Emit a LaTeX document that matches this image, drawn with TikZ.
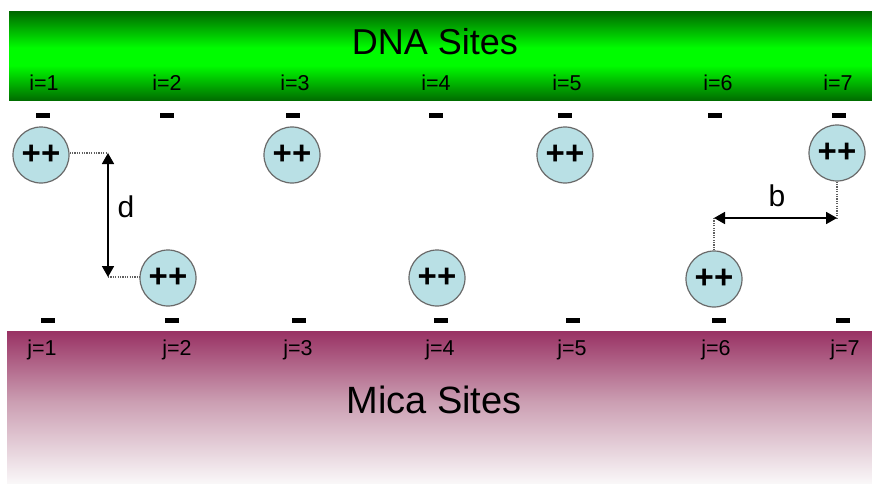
\documentclass[tikz,border=0pt]{standalone}
\usepackage{fontspec}
\setmainfont{Liberation Sans}
\usetikzlibrary{arrows.meta}
\definecolor{dnadark}{RGB}{0,106,0}
\definecolor{dnabright}{RGB}{0,252,0}
\definecolor{micatop}{RGB}{153,50,100}
\definecolor{micamid}{RGB}{203,158,178}
\definecolor{micalow}{RGB}{250,248,249}
\definecolor{ionfill}{RGB}{185,224,229}
\definecolor{iondraw}{RGB}{105,105,105}
\definecolor{guide}{RGB}{95,95,95}
% vertical shadings for the two substrate bands; the path spans 25bp (bottom) to 75bp (top)
\pgfdeclareverticalshading{dnaband}{100bp}{color(0bp)=(dnadark); color(25bp)=(dnadark); color(45bp)=(dnabright); color(55bp)=(dnabright); color(75bp)=(dnadark); color(100bp)=(dnadark)}
\pgfdeclareverticalshading{micaband}{100bp}{color(0bp)=(micalow); color(25bp)=(micalow); color(52bp)=(micamid); color(75bp)=(micatop); color(100bp)=(micatop)}
\begin{document}
\begin{tikzpicture}[x=1pt,y=-1pt,
  ion/.style={circle,fill=ionfill,draw=iondraw,line width=1.2pt,minimum size=56pt,inner sep=0pt,
              font=\fontsize{33}{33}\selectfont\bfseries},
  charge/.style={fill=black,minimum width=14pt,minimum height=5pt,inner sep=0pt},
  sitelabel/.style={font=\fontsize{21.5}{21.5}\selectfont,inner sep=0pt},
  bandlabel/.style={inner sep=0pt},
  guideline/.style={guide,line width=1.3pt,dash pattern=on 1.2pt off 1.2pt},
  measure/.style={line width=1.8pt,{Triangle[length=11pt,width=12pt]}-{Triangle[length=11pt,width=12pt]}}]
\useasboundingbox (0,0) rectangle (872,484);

% substrate bands
\shade[shading=dnaband] (9,12) rectangle (872,101);
\shade[shading=micaband] (7,331) rectangle (872,484);

\node[bandlabel,font=\fontsize{36}{36}\selectfont] (dna) at (435,42) {DNA Sites};
\node[bandlabel,font=\fontsize{38}{38}\selectfont] (mica) at (434,400) {Mica Sites};

% DNA site labels and charges
\node[sitelabel] (i1) at (44,83) {i=1};
\node[sitelabel] (i2) at (167,83) {i=2};
\node[sitelabel] (i3) at (295,83) {i=3};
\node[sitelabel] (i4) at (436,83) {i=4};
\node[sitelabel] (i5) at (567,83) {i=5};
\node[sitelabel] (i6) at (718,83) {i=6};
\node[sitelabel] (i7) at (838,83) {i=7};

\node[charge] (tm1) at (43,116) {};
\node[charge] (tm2) at (167,116) {};
\node[charge] (tm3) at (293,116) {};
\node[charge] (tm4) at (436,116) {};
\node[charge] (tm5) at (565,116) {};
\node[charge] (tm6) at (715,116) {};
\node[charge] (tm7) at (839,116) {};

% mica site labels and charges
\node[charge] (bm1) at (48,320) {};
\node[charge] (bm2) at (172,320) {};
\node[charge] (bm3) at (299,320) {};
\node[charge] (bm4) at (441,320) {};
\node[charge] (bm5) at (573,320) {};
\node[charge] (bm6) at (719,320) {};
\node[charge] (bm7) at (843,320) {};

\node[sitelabel] (j1) at (42,350) {j=1};
\node[sitelabel] (j2) at (177,350) {j=2};
\node[sitelabel] (j3) at (298,350) {j=3};
\node[sitelabel] (j4) at (440,350) {j=4};
\node[sitelabel] (j5) at (572,350) {j=5};
\node[sitelabel] (j6) at (716,350) {j=6};
\node[sitelabel] (j7) at (845,350) {j=7};

% divalent ions
\node[ion] (u1) at (41,155) {++};
\node[ion] (u3) at (292,155) {++};
\node[ion] (u5) at (565,155) {++};
\node[ion] (u7) at (837,153) {++};
\node[ion] (l2) at (168,278) {++};
\node[ion] (l4) at (437,278) {++};
\node[ion] (l6) at (714,279) {++};

% vertical separation d
\coordinate (dtop) at (108,153);
\coordinate (dbot) at (108,277);
\draw[guideline] (u1.east |- dtop) -- (dtop);
\draw[guideline] (dbot) -- (l2.west |- dbot);
\draw[measure] (dtop) -- (dbot);
\node[font=\fontsize{30}{30}\selectfont,inner sep=0pt] (dlab) at (126,207) {d};

% lateral separation b
\coordinate (bleft) at (714,218);
\coordinate (bright) at (837,218);
\draw[guideline] (l6.north) -- (bleft);
\draw[guideline] (u7.south) -- (bright);
\draw[measure] (bleft) -- (bright);
\node[font=\fontsize{30}{30}\selectfont,inner sep=0pt] (blab) at (777,196) {b};
\end{tikzpicture}
\end{document}
